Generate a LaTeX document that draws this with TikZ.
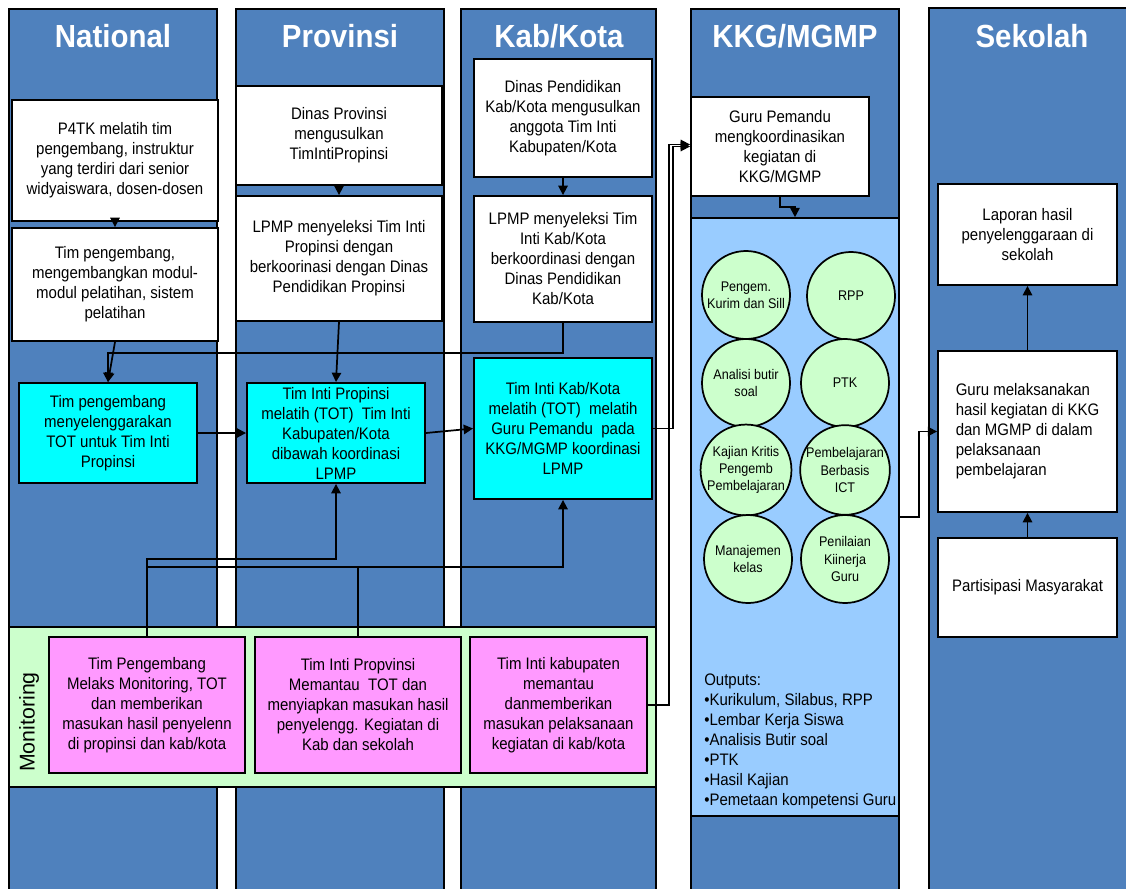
\documentclass[tikz,border=0pt]{standalone}
\usepackage{fontspec}
\setmainfont{Liberation Sans}
\newfontfamily\cnd{Liberation Sans}[FakeStretch=0.9]
\newfontfamily\ttl{Liberation Sans}[FakeStretch=0.92]
\usetikzlibrary{arrows.meta,calc}

\definecolor{lane}{RGB}{79,129,189}
\definecolor{cyanbox}{RGB}{0,255,255}
\definecolor{pinkbox}{RGB}{255,153,255}
\definecolor{mint}{RGB}{204,255,204}
\definecolor{skyarea}{RGB}{153,204,255}

\begin{document}
\begin{tikzpicture}[x=0.75pt,y=-0.75pt,
  sz/.style 2 args={minimum width=#1*0.75pt, minimum height=#2*0.75pt},
  lanebg/.style={fill=lane, draw=black, line width=0.8pt},
  title/.style={anchor=base, text=white, font=\ttl\bfseries\fontsize{24}{28}\selectfont},
  box/.style={draw=black, line width=1.4pt, inner sep=0pt, align=center, font=\cnd\fontsize{12.5}{15}\selectfont},
  wbox/.style={box, fill=white},
  cbox/.style={box, fill=cyanbox},
  mbox/.style={box, fill=pinkbox},
  topic/.style={circle, draw=black, line width=1.3pt, fill=mint, inner sep=0pt, minimum size=88*0.75pt, align=center, font=\cnd\fontsize{10.5}{13}\selectfont},
  link/.style={draw=black, line width=1.3pt},
  arr/.style={link, -{Triangle[length=7pt,width=7pt]}},
]
\useasboundingbox (0,0) rectangle (1126,888);
\clip (0,0) rectangle (1126,888);
\fill[white] (0,0) rectangle (1126,888);

% swim lanes
\draw[lanebg] (9,9) rectangle (217,900);
\draw[lanebg] (236,9) rectangle (444,900);
\draw[lanebg] (461,9) rectangle (656,900);
\draw[lanebg] (691,9) rectangle (899,900);
\draw[lanebg] (929,8) rectangle (1140,900);

\node[title] (tn) at (113,48) {National};
\node[title] (tp) at (340,48) {Provinsi};
\node[title] (tk) at (559,48) {Kab/Kota};
\node[title] (tg) at (795,48) {KKG/MGMP};
\node[title] (ts) at (1032,48) {Sekolah};

% monitoring band
\node[draw=black, line width=1.2pt, fill=mint, inner sep=0pt, sz={647}{160}] (band) at (332.5,707) {};
\node[rotate=90, inner sep=0pt, font=\fontsize{16}{19}\selectfont] (mon) at (29,722) {Monitoring};

% KKG working area
\node[draw=black, line width=1.2pt, fill=skyarea, inner sep=0pt, sz={208}{598}] (lb) at (795,517) {};

% National
\node[wbox, sz={206}{121}] (n1) at (115,160.5) {P4TK melatih tim\\pengembang, instruktur\\yang terdiri dari senior\\widyaiswara, dosen-dosen};
\node[wbox, sz={206}{113}] (n2) at (115,284.5) {Tim pengembang,\\mengembangkan modul-\\modul pelatihan, sistem\\pelatihan};
\node[cbox, sz={178}{100}] (n3) at (108,433) {Tim pengembang\\menyelenggarakan\\TOT untuk Tim Inti\\Propinsi};

% Provinsi
\node[wbox, sz={206}{99}] (p1) at (339,135.5) {Dinas Provinsi\\mengusulkan\\TimIntiPropinsi};
\node[wbox, sz={206}{125}] (p2) at (339,258.5) {LPMP menyeleksi Tim Inti\\Propinsi dengan\\berkoorinasi dengan Dinas\\Pendidikan Propinsi};
\node[cbox, sz={178}{100}] (p3) at (336,433) {Tim Inti Propinsi\\melatih (TOT)~ Tim Inti\\Kabupaten/Kota\\dibawah koordinasi\\LPMP};

% Kab/Kota
\node[wbox, sz={178}{118}] (k1) at (563,118) {Dinas Pendidikan\\Kab/Kota mengusulkan\\anggota Tim Inti\\Kabupaten/Kota};
\node[wbox, sz={178}{126}] (k2) at (563,259) {LPMP menyeleksi Tim\\Inti Kab/Kota\\berkoordinasi dengan\\Dinas Pendidikan\\Kab/Kota};
\node[cbox, sz={178}{141}] (k3) at (563,428.5) {Tim Inti Kab/Kota\\melatih (TOT)~ melatih\\Guru Pemandu~ pada\\KKG/MGMP koordinasi\\LPMP};

% KKG/MGMP
\node[wbox, sz={178}{99}] (g1) at (780,146.5) {Guru Pemandu\\mengkoordinasikan\\kegiatan di\\KKG/MGMP};
\node[topic] (c1) at (746,295) {Pengem.\\Kurim dan Sill};
\node[topic] (c2) at (851,296) {RPP};
\node[topic] (c3) at (746,383) {Analisi butir\\soal};
\node[topic] (c4) at (845,383) {PTK};
\node[topic] (c5) at (746,470) {Kajian Kritis\\Pengemb\\Pembelajaran};
\node[topic] (c6) at (845,470) {Pembelajaran\\Berbasis\\ICT};
\node[topic] (c7) at (748,559) {Manajemen\\kelas};
\node[topic] (c8) at (845,559) {Penilaian\\Kiinerja\\Guru};
\node[anchor=north west, align=left, inner sep=0pt, font=\cnd\fontsize{12.5}{15}\selectfont] (outs) at (704,674)
  {Outputs:\\•Kurikulum, Silabus, RPP\\•Lembar Kerja Siswa\\•Analisis Butir soal\\•PTK\\•Hasil Kajian\\•Pemetaan kompetensi Guru};

% Sekolah
\node[wbox, sz={179}{101}] (s1) at (1027.5,234.5) {Laporan hasil\\penyelenggaraan di\\sekolah};
\node[wbox, sz={179}{161}, align=left] (s2) at (1027.5,431.5) {Guru melaksanakan\\hasil kegiatan di KKG\\dan MGMP di dalam\\pelaksanaan\\pembelajaran};
\node[wbox, sz={179}{99}] (s3) at (1027.5,587.5) {Partisipasi Masyarakat};

% monitoring boxes
\node[mbox, sz={196}{136}] (m1) at (147,705) {Tim Pengembang\\Melaks Monitoring, TOT\\dan memberikan\\masukan hasil penyelenn\\di propinsi dan kab/kota};
\node[mbox, sz={206}{136}] (m2) at (358,705) {Tim Inti Propvinsi\\Memantau~ TOT dan\\menyiapkan masukan hasil\\penyelengg. Kegiatan di\\Kab dan sekolah};
\node[mbox, sz={177}{136}] (m3) at (558.5,705) {Tim Inti kabupaten\\memantau\\danmemberikan\\masukan pelaksanaan\\kegiatan di kab/kota};

% flow
\draw[arr] (n1.south) -- (n2.north);
\draw[arr] (n2.south) -- (n3.north);
\draw[arr] (k2.south) -- ++(0,30) -| (n3.north);
\draw[arr] (p1.south) -- (p2.north);
\draw[arr] (p2.south) -- (p3.north);
\draw[arr] (k1.south) -- (k2.north);
\draw[arr] (n3.east) -- (p3.west);
\draw[arr] (p3.east) -- (k3.west);
\draw[arr] (k3.east) -- ++(20,0) |- (g1.west);
\draw[arr] (m3.east) -- ++(21,0) |- ([yshift=1.5pt]g1.west);
\draw[arr] (g1.south) -- ++(0,10) -| (lb.north);
\draw[arr] (lb.east) -- ++(19,0) |- (s2.west);
\draw[arr] (s2.north) -- (s1.south);
\draw[arr] (s3.north) -- (s2.south);

% monitoring feedback
\draw[arr] (m1.north) -- ++(0,-77) -| (p3.south);
\draw[arr] (m1.north) -- ++(0,-69) -| (k3.south);
\draw[link] (m2.north) -- ++(0,-69);
\end{tikzpicture}
\end{document}
